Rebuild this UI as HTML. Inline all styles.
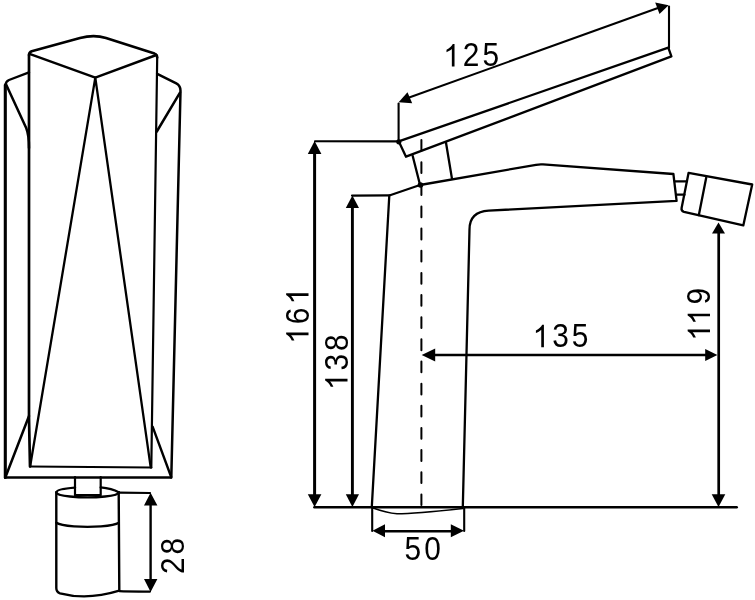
<!DOCTYPE html>
<html>
<head>
<meta charset="utf-8">
<title>Faucet dimensions</title>
<style>
  html, body { margin: 0; padding: 0; background: #ffffff; }
  body { width: 755px; height: 600px; overflow: hidden; }
  svg { display: block; filter: grayscale(1); }
  text { font-family: "Liberation Sans", sans-serif; font-size: 32.4px; fill: #000; stroke: none; }
  path.g { fill: #000; stroke: none; }
</style>
</head>
<body>
<svg width="755" height="600" viewBox="0 0 755 600">
  <rect x="0" y="0" width="755" height="600" fill="#ffffff"/>

  <!-- ================= LEFT FIGURE (front view) ================= -->
  <g fill="none" stroke="#000" stroke-width="2.4" stroke-linecap="round" stroke-linejoin="round">
    <!-- top diamond -->
    <path d="M29 55 Q29 52.2 31.7 51.2 L80 38 Q94 34.2 106 38 L154.5 53.6 Q157.2 54.6 157.2 57.5" stroke-width="2.6"/>
    <path d="M29.5 53.8 L95.3 77.6 L156.4 55"/>
    <!-- box left side -->
    <path d="M29 55 L29 418 L30 466.5" stroke-width="2.7"/>
    <!-- box bottom -->
    <path d="M30 466.5 L151.3 467.5" stroke-width="2.2"/>
    <!-- box right side -->
    <path d="M151.3 467.5 L157.2 57.5" stroke-width="2.2"/>
    <!-- V lines -->
    <path d="M30.2 466 L95.3 77.6 L150.7 467.3" stroke-width="2.3"/>
    <!-- outer left shoulder + side -->
    <path d="M29 72.4 L9 80 Q5.6 81.5 5.4 85.7" stroke-width="2.4"/>
    <path d="M5.3 85 L5.3 477.5" stroke-width="3.1"/>
    <!-- outer bottom -->
    <path d="M4 477.5 L171.6 477.5" stroke-width="2.6" stroke-linecap="butt"/>
    <!-- outer right side + shoulder -->
    <path d="M171.3 477.5 L180.5 91 Q180.6 85.7 176.3 83.4 L157.2 73.8" stroke-width="2.5"/>
    <!-- upper diagonals -->
    <path d="M6 84.2 L26.2 128 Q29 135 29 148" stroke-width="2.5"/>
    <path d="M180 92.7 L156.8 131.5" stroke-width="2.5"/>
    <!-- lower diagonals -->
    <path d="M5.5 477 L29 416" stroke-width="2.5"/>
    <path d="M171.2 477 L152.6 426.7"/>
    <!-- knob stem -->
    <path d="M75 477 L75 495.2 L100.7 495.2 L100.7 477" stroke-width="2.2"/>
    <!-- knob -->
    <path d="M75 487.6 Q56.3 489 56.3 492.5 L56.3 588 Q56.3 592 60 593.3 Q87.5 600.5 119.3 590.7 L118.7 492.3"/>
    <path d="M56.3 492.3 Q56.5 495 70 496.5 Q87.5 498.2 105 496.5 Q118.5 495 118.7 492.3"/>
    <path d="M100.7 487.4 Q112 488.5 118.7 492.3"/>
    <path d="M56.3 522.8 Q60 525.4 74 526.4 Q87.5 527.3 101 526.4 Q115 525.4 118.9 522.8"/>
  </g>
  <!-- dimension 28 -->
  <g fill="none" stroke="#000" stroke-width="2.2" stroke-linecap="round">
    <path d="M118.7 492.6 L150 493"/>
    <path d="M119.3 591.2 Q125 591.6 150 591.6"/>
  </g>
  <path d="M150.6 500 L150.6 585" stroke="#000" stroke-width="2.4" fill="none"/>
  <path d="M150.6 492.8 L144 505.6 L157.4 505.6 Z M150.6 592 L144 579 L157.4 579 Z" fill="#000"/>

  <!-- ================= RIGHT FIGURE (side view) ================= -->
  <g fill="none" stroke="#000" stroke-width="2.3" stroke-linecap="round" stroke-linejoin="round">
    <!-- handle -->
    <path d="M398.7 141.3 L668.3 47.7 L671.4 56.4 L406 156.7 Z"/>
    <!-- neck -->
    <path d="M412.7 156 L420 184.7"/>
    <path d="M446 142.7 L452 178.9"/>
    <!-- body -->
    <path d="M371.8 507 L389.3 195.5 L420 185 L536 164.8 Q539.6 164.1 543 164.4 L673.4 174 L676.6 200.9 L488.7 210.6 Q469.5 211.6 469.5 229.5 L462.8 507"/>
    <!-- connector -->
    <path d="M675 181.3 L687 181.3"/>
    <path d="M676.5 194.7 L684.5 194.7"/>
    <!-- aerator -->
    <path d="M688.6 172.8 L752.2 184.5 L743.3 225.4 L684 211.8 Q681 211 681.6 208 Z"/>
    <path d="M706.2 177.7 L698.8 215.2"/>
    <!-- base plate curve -->
    <path d="M372.3 507.8 Q386 512.8 397 513.8 Q415 513.6 462.8 508.5" stroke-width="1.5"/>
  </g>
  <!-- dashed centre line -->
  <path d="M421.4 140 L421.4 505" fill="none" stroke="#000" stroke-width="2" stroke-dasharray="10.8 11.35" stroke-linecap="round"/>
  <circle cx="420.5" cy="185" r="2.8" fill="#000"/>
  <circle cx="398.8" cy="141.8" r="2.6" fill="#000"/>

  <!-- extension lines -->
  <g fill="none" stroke="#000" stroke-width="2.1" stroke-linecap="round">
    <path d="M315 141.2 L398.7 141.4"/>
    <path d="M352 195.6 L389.3 195.4"/>
    <path d="M398.6 103.5 L398.6 141"/>
    <path d="M669 6.6 L669 47.7"/>
    <path d="M372.2 507 L372.2 531"/>
    <path d="M464.2 507 L464.2 531"/>
  </g>
  <!-- base line -->
  <path d="M314.4 507.3 L736.7 507.3" fill="none" stroke="#000" stroke-width="2.5" stroke-linecap="round"/>
  <!-- dimension lines -->
  <g fill="none" stroke="#000" stroke-width="2.4">
    <path d="M314.6 150 L314.6 498" stroke-width="3"/>
    <path d="M352.4 204 L352.4 498" stroke-width="2.9"/>
    <path d="M718.7 230 L718.7 498" stroke-width="2.7"/>
    <path d="M430 355 L710 355"/>
    <path d="M380 531.2 L456 531.2" stroke-width="2.5"/>
  </g>
  <path d="M405 99 L660 7.3" fill="none" stroke="#000" stroke-width="2.1"/>
  <!-- arrow heads -->
  <g fill="#000" stroke="none">
    <path d="M314.6 141 L307.8 154 L321.4 154 Z"/>
    <path d="M314.6 507 L307.8 494.3 L321.4 494.3 Z"/>
    <path d="M352.4 195.6 L345.8 208 L359 208 Z"/>
    <path d="M352.4 507 L345.8 494.3 L359 494.3 Z"/>
    <path d="M718.5 222.6 L712 233.4 L725 233.4 Z"/>
    <path d="M718.5 507 L711.7 494.2 L725.3 494.2 Z"/>
    <path d="M421.7 355 L435.2 348.5 L435.2 361.5 Z"/>
    <path d="M717.4 355 L705.2 348.9 L705.2 361.1 Z"/>
    <path d="M372.5 530.7 L385 524.3 L385 537.2 Z"/>
    <path d="M464 530.7 L450.8 524.3 L450.8 537.2 Z"/>
    <path d="M398.6 102.2 L407.5 92.2 L412.2 103.2 Z"/>
    <path d="M668.6 5.2 L655.2 2.5 L659.5 13.9 Z"/>
  </g>
  <!-- dimension texts -->
  <g transform="translate(443.2 66.4)"><path class="g" transform="translate(0.0 0) scale(0.014838 -0.015187)" d="M763 0H583V1147Q518 1085 412.5 1023T223 930V1104Q374 1175 487 1276T647 1472H763Z"/><text transform="translate(19.6 0) scale(0.923 1)">2</text><text transform="translate(39.2 0) scale(0.923 1)">5</text></g>
  <g transform="translate(532.6 347.2)"><path class="g" transform="translate(0.0 0) scale(0.014838 -0.015187)" d="M763 0H583V1147Q518 1085 412.5 1023T223 930V1104Q374 1175 487 1276T647 1472H763Z"/><text transform="translate(19.6 0) scale(0.923 1)">3</text><text transform="translate(39.2 0) scale(0.923 1)">5</text></g>
  <g transform="translate(404.6 559.8)"><text transform="translate(0.0 0) scale(0.923 1)">5</text><text transform="translate(19.6 0) scale(0.923 1)">0</text></g>
  <g transform="translate(308.5 343.8) rotate(-90)"><path class="g" transform="translate(0.0 0) scale(0.014838 -0.015187)" d="M763 0H583V1147Q518 1085 412.5 1023T223 930V1104Q374 1175 487 1276T647 1472H763Z"/><text transform="translate(19.6 0) scale(0.923 1)">6</text><path class="g" transform="translate(39.2 0) scale(0.014838 -0.015187)" d="M763 0H583V1147Q518 1085 412.5 1023T223 930V1104Q374 1175 487 1276T647 1472H763Z"/></g>
  <g transform="translate(347.5 390.1) rotate(-90)"><path class="g" transform="translate(0.0 0) scale(0.014838 -0.015187)" d="M763 0H583V1147Q518 1085 412.5 1023T223 930V1104Q374 1175 487 1276T647 1472H763Z"/><text transform="translate(19.6 0) scale(0.923 1)">3</text><text transform="translate(39.2 0) scale(0.923 1)">8</text></g>
  <g transform="translate(710 340.8) rotate(-90)"><path class="g" transform="translate(0.0 0) scale(0.014838 -0.015187)" d="M763 0H583V1147Q518 1085 412.5 1023T223 930V1104Q374 1175 487 1276T647 1472H763Z"/><path class="g" transform="translate(15.8 0) scale(0.014838 -0.015187)" d="M763 0H583V1147Q518 1085 412.5 1023T223 930V1104Q374 1175 487 1276T647 1472H763Z"/><text transform="translate(36.2 0) scale(0.923 1)">9</text></g>
  <g transform="translate(184.2 574) rotate(-90)"><text transform="translate(0.0 0) scale(0.923 1)">2</text><text transform="translate(19.6 0) scale(0.923 1)">8</text></g>
</svg>
</body>
</html>
